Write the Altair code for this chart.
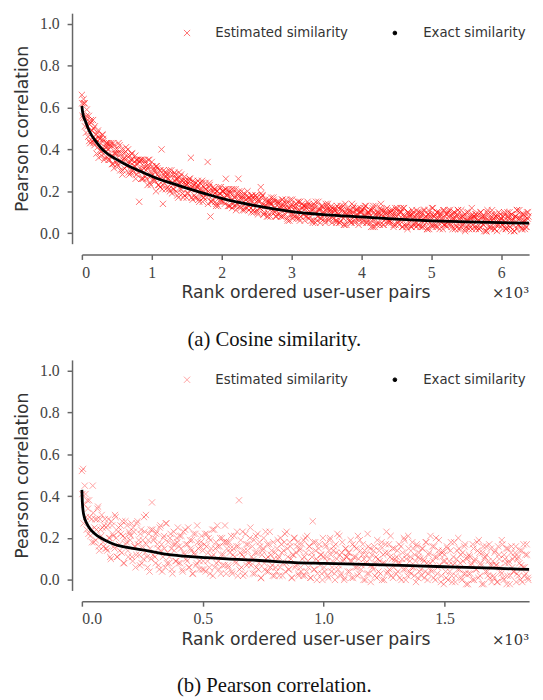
import altair as alt
import pandas as pd

EST_LABEL = "Estimated similarity"
EXACT_LABEL = "Exact similarity"
SERIES = [EST_LABEL, EXACT_LABEL]
X_TITLE = "Rank ordered user-user pairs"
Y_TITLE = "Pearson correlation"
CAPTION_A = "(a) Cosine similarity."
CAPTION_B = "(b) Pearson correlation."
MULT_TEXT = "×10³"

# ---------------- Panel (a): cosine similarity ----------------
a_xmax = 6400
a_xticks = [0, 1000, 2000, 3000, 4000, 5000, 6000]
a_exact_rank = [0, 10, 25, 50, 90, 140, 200, 280, 370, 470, 600, 845, 1050, 1270, 1500,
                1750, 2000, 2500, 3000, 3500, 4000, 4500, 5000, 5500, 6000, 6400]
a_exact_val = [0.607, 0.58, 0.556, 0.535, 0.50, 0.467, 0.438, 0.404, 0.378, 0.357, 0.333,
               0.294, 0.265, 0.24, 0.215, 0.19, 0.166, 0.13, 0.103, 0.088, 0.078, 0.067,
               0.059, 0.054, 0.05, 0.048]
a_est_step = 20  # estimated values read every 20 ranks, three interleaved passes
a_est_offsets = [0, 10, 5]
a_est_pct_1 = [
    66, 55, 62, 48, 54, 56, 43, 49, 54, 42, 45, 48, 36, 45, 39, 47, 35, 41, 43, 35,
    35, 43, 37, 31, 40, 38, 32, 42, 34, 28, 38, 35, 32, 40, 28, 35, 38, 29, 32, 35,
    33, 15, 35, 30, 26, 35, 30, 23, 32, 27, 34, 25, 30, 20, 31, 27, 22, 40, 14, 24,
    21, 28, 26, 20, 30, 23, 21, 28, 26, 17, 24, 28, 19, 23, 25, 17, 24, 26, 36, 22,
    24, 17, 21, 25, 15, 21, 25, 17, 19, 21, 34, 22, 8, 15, 22, 19, 13, 20, 18, 15,
    15, 20, 17, 26, 19, 21, 13, 16, 19, 13, 21, 14, 26, 18, 17, 11, 19, 14, 12, 17,
    17, 12, 18, 10, 14, 17, 9, 15, 22, 18, 9, 13, 15, 10, 16, 8, 14, 17, 10, 11,
    9, 15, 12, 8, 14, 11, 16, 7, 12, 9, 14, 7, 11, 13, 8, 15, 6, 10, 12, 9,
    13, 8, 10, 13, 6, 11, 14, 5, 10, 8, 12, 7, 13, 9, 6, 11, 14, 7, 10, 5,
    7, 11, 5, 10, 12, 6, 8, 13, 4, 9, 11, 6, 10, 5, 12, 8, 7, 11, 4, 10,
    10, 5, 12, 8, 6, 10, 8, 3, 12, 6, 9, 4, 10, 8, 14, 11, 4, 9, 7, 10,
    5, 10, 8, 3, 9, 11, 6, 4, 10, 7, 12, 4, 7, 2, 9, 8, 3, 10, 5, 7,
    9, 4, 7, 10, 3, 6, 8, 2, 11, 5, 9, 3, 8, 4, 10, 7, 2, 9, 6, 4,
    8, 3, 10, 6, 4, 9, 7, 2, 8, 11, 5, 2, 8, 5, 9, 3, 6, 2, 7, 12,
    4, 8, 2, 7, 9, 3, 5, 8, 1, 6, 10, 3, 7, 2, 6, 9, 4, 1, 8, 5,
    7, 2, 9, 5, 3, 8, 10, 1, 6, 4, 8, 2, 7, 11, 3, 5, 9, 2, 6, 7,
]
a_est_pct_2 = [
    56, 62, 55, 59, 46, 52, 54, 44, 50, 45, 38, 49, 45, 39, 47, 44, 36, 43, 40, 43,
    41, 33, 43, 38, 34, 40, 38, 30, 40, 35, 31, 41, 37, 29, 34, 38, 30, 34, 26, 35,
    35, 31, 26, 35, 32, 27, 32, 35, 24, 29, 32, 26, 29, 32, 23, 30, 26, 21, 30, 27,
    27, 22, 30, 25, 19, 28, 25, 20, 26, 29, 21, 25, 17, 27, 23, 19, 25, 22, 17, 25,
    18, 24, 22, 16, 24, 20, 15, 22, 24, 17, 20, 23, 15, 18, 21, 15, 20, 13, 19, 22,
    20, 15, 21, 18, 13, 20, 17, 12, 21, 17, 13, 18, 20, 12, 16, 18, 12, 16, 20, 11,
    15, 18, 11, 16, 18, 10, 15, 12, 17, 18, 10, 13, 8, 15, 14, 17, 11, 15, 8, 15,
    14, 12, 8, 16, 13, 9, 15, 11, 6, 13, 16, 9, 12, 7, 15, 11, 8, 14, 13, 6,
    12, 15, 7, 10, 13, 6, 12, 15, 8, 11, 5, 13, 10, 7, 14, 12, 6, 11, 13, 8,
    11, 6, 13, 9, 5, 12, 10, 4, 14, 9, 7, 11, 5, 10, 13, 6, 9, 12, 7, 10,
    7, 11, 13, 5, 10, 9, 5, 11, 13, 3, 8, 10, 5, 12, 9, 4, 11, 7, 9, 6,
    10, 5, 11, 8, 4, 12, 9, 6, 10, 3, 12, 7, 4, 10, 8, 3, 9, 7, 4, 11,
    4, 10, 8, 3, 11, 7, 5, 9, 2, 8, 12, 4, 9, 7, 3, 10, 8, 5, 11, 4,
    9, 5, 8, 11, 3, 7, 10, 4, 9, 2, 8, 11, 4, 8, 2, 6, 10, 3, 7, 9,
    7, 9, 3, 6, 2, 10, 8, 4, 7, 1, 9, 6, 3, 11, 7, 2, 8, 6, 4, 9,
    4, 8, 6, 2, 10, 7, 3, 9, 6, 1, 8, 11, 4, 7, 2, 9, 6, 3, 10, 8,
]
a_est_pct_3 = [
    62, 64, 51, 56, 51, 44, 53, 49, 43, 51, 47, 41, 46, 43, 37, 45, 40, 42, 36, 40,
    42, 37, 33, 42, 38, 33, 43, 35, 38, 30, 36, 39, 32, 34, 37, 29, 35, 32, 37, 28,
    29, 34, 35, 26, 31, 34, 26, 31, 35, 23, 28, 31, 25, 32, 28, 23, 30, 27, 23, 29,
    29, 26, 21, 28, 24, 21, 29, 26, 18, 24, 27, 21, 25, 18, 25, 23, 19, 26, 21, 16,
    23, 21, 17, 23, 21, 18, 24, 17, 21, 19, 14, 24, 20, 16, 20, 21, 14, 18, 22, 16,
    18, 20, 14, 21, 18, 13, 19, 21, 14, 17, 11, 19, 16, 13, 20, 17, 11, 16, 18, 13,
    16, 10, 17, 14, 18, 11, 16, 12, 19, 14, 9, 16, 13, 8, 15, 14, 10, 16, 12, 8,
    15, 9, 13, 16, 8, 12, 14, 6, 12, 16, 9, 13, 8, 14, 11, 7, 15, 12, 9, 13,
    8, 13, 14, 8, 11, 5, 13, 10, 6, 15, 11, 7, 12, 10, 5, 13, 11, 8, 11, 12,
    10, 12, 6, 9, 5, 13, 11, 7, 10, 4, 12, 9, 6, 14, 10, 5, 11, 9, 6, 12,
    11, 6, 9, 13, 5, 10, 11, 6, 3, 10, 13, 5, 9, 4, 11, 8, 6, 10, 12, 5,
    6, 11, 9, 4, 12, 8, 5, 10, 12, 3, 9, 8, 3, 10, 5, 9, 11, 4, 8, 3,
    10, 7, 3, 9, 5, 11, 8, 2, 9, 7, 4, 12, 8, 3, 10, 5, 9, 7, 2, 11,
    4, 9, 11, 5, 8, 2, 10, 7, 3, 11, 7, 3, 8, 6, 1, 10, 7, 4, 8, 2,
    8, 3, 9, 6, 2, 10, 7, 4, 8, 1, 11, 6, 3, 9, 7, 2, 8, 4, 10, 6,
    7, 4, 10, 2, 8, 6, 3, 9, 7, 1, 8, 11, 4, 7, 9, 2, 6, 8, 3, 10,
]

# ---------------- Panel (b): Pearson correlation ----------------
b_xmax = 1850
b_xticks = [0, 500, 1000, 1500]
b_exact_rank = [0, 2, 5, 10, 20, 40, 68, 100, 136, 200, 244, 300, 353, 400, 516, 600,
                720, 882, 1000, 1200, 1357, 1500, 1700, 1850]
b_exact_val = [0.43, 0.37, 0.33, 0.30, 0.27, 0.235, 0.208, 0.187, 0.169, 0.153, 0.145,
               0.133, 0.122, 0.116, 0.106, 0.10, 0.094, 0.083, 0.079, 0.073, 0.068,
               0.063, 0.056, 0.05]
b_est_step = 5  # estimated values read every 5 ranks, two interleaved passes
b_est_offsets = [0, 2]
b_est_pct_1 = [
    52, 53, 36, 41, 24, 34, 38, 21, 29, 45, 18, 29, 24, 34, 16, 29, 21, 25, 16, 29,
    25, 14, 29, 20, 10, 26, 21, 15, 30, 11, 23, 17, 26, 13, 21, 8, 28, 18, 14, 23,
    19, 27, 9, 23, 16, 12, 28, 19, 7, 24, 16, 10, 23, 31, 11, 19, 4, 24, 37, 12,
    20, 8, 23, 15, 5, 26, 17, 11, 21, 6, 27, 13, 8, 20, 15, 3, 23, 17, 9, 18,
    8, 21, 15, 5, 23, 12, 17, 9, 25, 6, 15, 19, 3, 13, 22, 8, 18, 5, 16, 21,
    14, 5, 22, 16, 9, 20, 3, 15, 24, 12, 6, 18, 26, 9, 16, 3, 20, 12, 7, 18,
    15, 7, 18, 15, 4, 12, 21, 9, 16, 2, 38, 13, 6, 23, 11, 3, 17, 14, 8, 20,
    7, 16, 10, 3, 21, 13, 5, 18, 1, 12, 15, 8, 23, 4, 11, 17, 6, 14, 2, 10,
    13, 4, 19, 11, 6, 17, 2, 14, 22, 8, 15, 5, 18, 10, 1, 12, 20, 7, 16, 3,
    14, 6, 17, 2, 11, 20, 4, 9, 16, 1, 13, 28, 5, 18, 10, 3, 15, 7, 12, 0,
    11, 4, 16, 9, 1, 19, 12, 6, 14, 3, 17, 10, 5, 21, 2, 13, 9, 0, 15, 11,
    4, 13, 9, 1, 17, 11, 6, 15, 2, 10, 19, 5, 12, 0, 14, 8, 3, 16, 10, -1,
    12, 5, 16, 8, 1, 10, 14, 3, 18, 8, 0, 13, 23, 4, 17, 11, 2, 15, 6, 10,
    3, 14, 8, 1, 16, 10, 5, 19, 0, 12, 21, 4, 11, 6, 15, 2, 9, 17, 1, 13,
    10, 2, 15, 9, 4, 18, 0, 12, 8, 5, 16, 1, 11, 20, 3, 14, 7, -1, 13, 9,
    12, 4, 16, 0, 9, 14, 2, 7, 18, -1, 10, 5, 15, 8, 1, 13, 3, 17, -2, 11,
    3, 11, 7, 0, 15, 9, 5, 18, 1, 13, 8, -2, 16, 10, 4, 12, 2, 17, 7, -1,
    9, 1, 14, 7, -1, 12, 6, 3, 17, 0, 10, 15, 2, 8, -2, 13, 6, 4, 11, 16,
    3, 11, 8, 0, 14, 6, 2, 12, 17, 1,
]
b_est_pct_2 = [
    41, 27, 45, 30, 38, 22, 30, 24, 18, 32, 25, 19, 29, 35, 14, 24, 31, 18, 26, 15,
    15, 26, 20, 11, 28, 22, 16, 31, 20, 11, 25, 14, 22, 28, 8, 20, 17, 26, 11, 22,
    21, 11, 25, 16, 6, 27, 17, 12, 22, 8, 19, 30, 13, 17, 6, 22, 15, 10, 24, 19,
    11, 22, 17, 7, 25, 14, 4, 20, 15, 27, 8, 18, 11, 22, 5, 17, 14, 9, 20, 25,
    16, 8, 21, 4, 13, 24, 10, 17, 6, 19, 14, 3, 22, 12, 7, 26, 15, 9, 18, 5,
    9, 17, 4, 22, 13, 6, 19, 11, 2, 24, 15, 8, 16, 5, 20, 12, 7, 18, 26, 3,
    18, 6, 13, 21, 3, 15, 11, 8, 23, 16, 5, 19, 12, 2, 14, 22, 7, 17, 9, 25,
    11, 3, 19, 13, 6, 22, 8, 16, 1, 14, 20, 5, 10, 17, 4, 23, 12, 7, 18, 2,
    6, 15, 10, 2, 20, 13, 8, 18, 4, 23, 11, 5, 16, 1, 12, 20, 6, 13, 18, 2,
    15, 4, 10, 19, 2, 13, 21, 6, 16, 1, 11, 18, 5, 14, 0, 9, 17, 12, 3, 20,
    6, 17, 11, 2, 14, 20, 4, 9, 16, 0, 13, 22, 7, 12, 3, 18, 10, 1, 15, 11,
    13, 4, 19, 9, 1, 16, 11, 6, 21, 3, 14, 7, 17, 10, 0, 12, 22, 3, 15, 7,
    6, 14, 2, 11, 19, 4, 9, 16, 0, 12, 8, 17, 3, 13, 5, 21, 10, 1, 15, 9,
    11, 4, 17, 8, 0, 13, 20, 5, 10, 2, 15, 9, 3, 18, 6, 12, -1, 16, 11, 4,
    5, 15, 10, 1, 18, 8, 3, 13, 21, 4, 9, 16, 0, 11, 6, 19, 12, 2, 14, -2,
    9, 1, 15, 7, 4, 18, -1, 11, 8, 2, 14, 20, 5, 12, 0, 9, 16, 3, 10, -2,
    12, 3, 8, 17, 0, 10, 5, 14, 19, 2, 7, 13, -2, 11, 16, 4, 9, 1, 15, 7,
    2, 13, 7, -1, 16, 10, 4, 19, 1, 12, 8, -2, 15, 9, 2, 16, 10, 4, 13, -1,
    10, 2, 14, 7, -1, 17, 6, 3, 12, 0,
]

Y_TICKS = [0.0, 0.2, 0.4, 0.6, 0.8, 1.0]
X_MARK_PATH = "M-1,-1L1,1M-1,1L1,-1"

PLOT_W = 454
PLOT_H = 234


def est_frame(passes, offsets, step):
    ranks, values = [], []
    for pct, off in zip(passes, offsets):
        ranks += [off + i * step for i in range(len(pct))]
        values += [v / 100 for v in pct]
    return pd.DataFrame({"rank": ranks, "value": values, "series": EST_LABEL})


def make_panel(est_df, exact_rank, exact_val, xmax, xticks, label_expr, caption, alpha):
    exact_df = pd.DataFrame({"rank": exact_rank, "value": exact_val})

    x_scale = alt.Scale(domain=[0, xmax], nice=False, zero=False)
    y_scale = alt.Scale(domain=[-0.05, 1.05], nice=False, zero=False)
    common = dict(labelFont="Liberation Serif", labelFontSize=16, labelColor="#444",
                  titleFont="DejaVu Sans", titleFontSize=17.5, titleFontWeight="normal",
                  titleColor="#333", grid=False, domainColor="#666", tickColor="#666",
                  domainWidth=1.5, tickWidth=1.5, tickSize=5)
    x_axis = alt.Axis(values=xticks, labelExpr=label_expr, title=X_TITLE, offset=11,
                      labelPadding=5, titlePadding=4, **common)
    y_axis = alt.Axis(values=Y_TICKS, format=".1f", title=Y_TITLE, offset=10,
                      labelPadding=8, titlePadding=8, **common)

    legend = alt.Legend(orient="none", legendX=100, legendY=13, direction="horizontal",
                        title=None, labelFont="DejaVu Sans", labelFontSize=13.5,
                        labelColor="#333", labelOffset=22, columnPadding=40,
                        symbolStrokeWidth=1)

    pts = alt.Chart(est_df).mark_point(filled=True, strokeWidth=1.0).encode(
        x=alt.X("rank:Q", scale=x_scale, axis=x_axis),
        y=alt.Y("value:Q", scale=y_scale, axis=y_axis),
        color=alt.Color("series:N", title=None, legend=legend,
                        scale=alt.Scale(domain=SERIES, range=["#ff0000", "#000000"])),
        stroke=alt.Stroke("series:N", title=None, legend=legend,
                          scale=alt.Scale(domain=SERIES, range=["#ff0000", "#000000"])),
        shape=alt.Shape("series:N", title=None, legend=legend,
                        scale=alt.Scale(domain=SERIES, range=[X_MARK_PATH, "circle"])),
        size=alt.Size("series:N", title=None, legend=legend,
                      scale=alt.Scale(domain=SERIES, range=[40, 14])),
        opacity=alt.Opacity("series:N", title=None, legend=legend,
                            scale=alt.Scale(domain=SERIES, range=[alpha, 1.0])),
    )
    line = alt.Chart(exact_df).mark_line(color="black", strokeWidth=2.8,
                                         interpolate="monotone").encode(
        x=alt.X("rank:Q", scale=x_scale),
        y=alt.Y("value:Q", scale=y_scale),
    )
    mult = alt.Chart(pd.DataFrame({"t": [MULT_TEXT]})).mark_text(
        font="DejaVu Serif", fontSize=15, color="#333", align="right", baseline="middle"
    ).encode(text="t:N", x=alt.value(PLOT_W), y=alt.value(PLOT_H + 50))

    return alt.layer(pts, line, mult).properties(
        width=PLOT_W, height=PLOT_H,
        title=alt.TitleParams(caption, orient="bottom", anchor="middle", frame="bounds",
                              font="Liberation Serif", fontSize=21, fontWeight="normal",
                              color="#111", offset=28),
    )


panel_a = make_panel(est_frame([a_est_pct_1, a_est_pct_2, a_est_pct_3], a_est_offsets, a_est_step),
                     a_exact_rank, a_exact_val, a_xmax, a_xticks,
                     "format(datum.value / 1000, 'd')", CAPTION_A, 0.55)
panel_b = make_panel(est_frame([b_est_pct_1, b_est_pct_2], b_est_offsets, b_est_step),
                     b_exact_rank, b_exact_val, b_xmax, b_xticks,
                     "format(datum.value / 1000, '.1f')", CAPTION_B, 0.36)

chart = alt.vconcat(panel_a, panel_b, spacing=10).resolve_scale(
    color="independent", stroke="independent", shape="independent",
    size="independent", opacity="independent", x="independent", y="independent",
).resolve_legend(
    color="independent", stroke="independent", shape="independent",
    size="independent", opacity="independent",
).properties(
    padding={"left": 6, "top": 0, "right": 0, "bottom": 0},
).configure_view(stroke=None)

chart.save("out.html", embed_options={"renderer": "svg", "actions": False})
